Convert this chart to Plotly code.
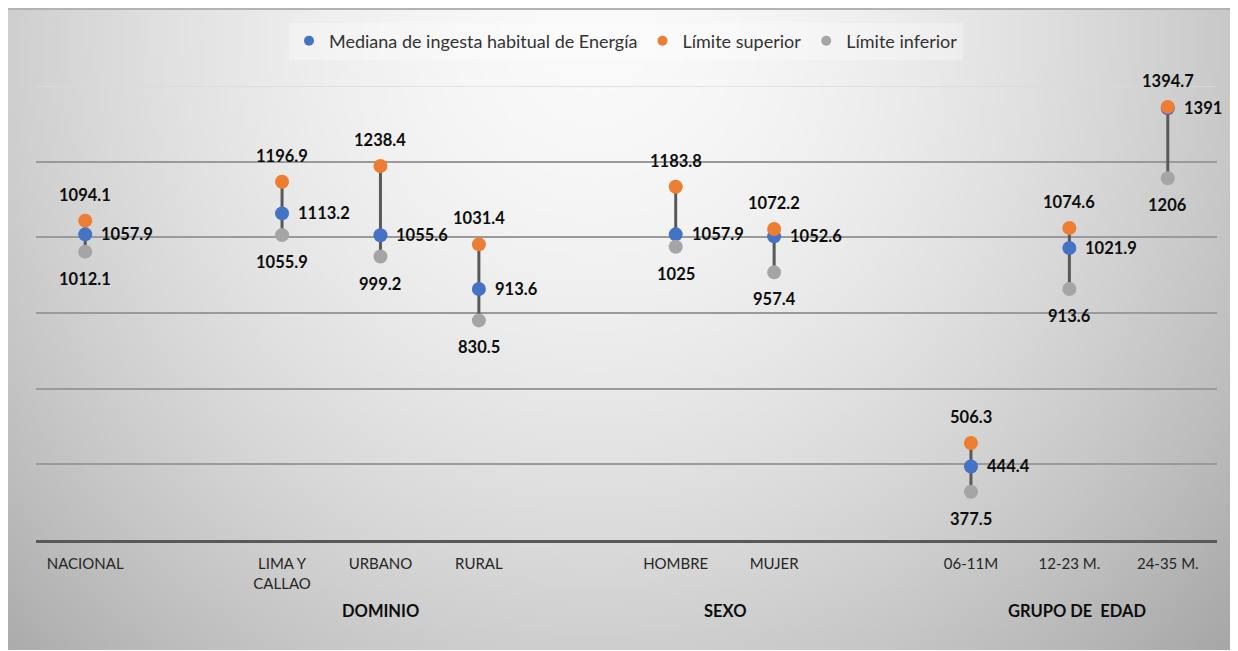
import base64, struct, zlib
import numpy as np
import plotly.graph_objects as go

# ---------------- data ----------------
all_slots = ["NACIONAL", " ", "LIMA Y<br>CALLAO", "URBANO", "RURAL", "  ",
             "HOMBRE", "MUJER", "   ", "06-11M", "12-23 M.", "24-35 M."]
categories = ["NACIONAL", "LIMA Y<br>CALLAO", "URBANO", "RURAL",
              "HOMBRE", "MUJER", "06-11M", "12-23 M.", "24-35 M."]
mediana = [1057.9, 1113.2, 1055.6, 913.6, 1057.9, 1052.6, 444.4, 1021.9, 1391]
superior = [1094.1, 1196.9, 1238.4, 1031.4, 1183.8, 1072.2, 506.3, 1074.6, 1394.7]
inferior = [1012.1, 1055.9, 999.2, 830.5, 1025, 957.4, 377.5, 913.6, 1206]
groups = [("DOMINIO", 3), ("SEXO", 6.5), ("GRUPO DE  EDAD", 10.08)]
series_names = ["Mediana de ingesta habitual de Energía", "Límite superior", "Límite inferior"]

BLUE, ORANGE, GREY = "#4472C4", "#ED7D31", "#A5A5A5"
FONT = "Lato"

OFF = 8  # browser default body margin
W, H = 1238 - OFF, 651 - OFF
# plot area in screen pixels: x 36..1217, y 86..540
L, R, T, B = 36 - OFF, 1238 - 1217, 86 - OFF, 651 - 540
PW, PH = W - L - R, H - T - B


def py(pix):  # screen pixel row -> paper y
    return (H - B - (pix - OFF)) / PH


def px(pix):
    return (pix - OFF - L) / PW


# ---------------- background gradient (image) ----------------
def make_png(arr):
    h, w, _ = arr.shape
    raw = b"".join(b"\x00" + arr[i].tobytes() for i in range(h))

    def chunk(t, d):
        return struct.pack(">I", len(d)) + t + d + struct.pack(">I", zlib.crc32(t + d) & 0xffffffff)
    return (b"\x89PNG\r\n\x1a\n" + chunk(b"IHDR", struct.pack(">IIBBBBB", w, h, 8, 2, 0, 0, 0))
            + chunk(b"IDAT", zlib.compress(raw, 9)) + chunk(b"IEND", b""))


gw, gh = 245, 128
xx, yy = np.meshgrid(np.linspace(0, 1, gw), np.linspace(0, 1, gh))
d = np.sqrt(((xx - 0.48) / 0.55) ** 2 + ((yy - 0.03) / 1.1) ** 2)
val = 250 - 54 * np.clip(d, 0, 1.3) ** 1.7
img = np.clip(np.stack([val, val, val], axis=-1), 0, 255).astype(np.uint8)
bg_src = "data:image/png;base64," + base64.b64encode(make_png(img)).decode()

fig = go.Figure()

# connecting lines lower -> upper
lx, ly = [], []
for c, lo, hi in zip(categories, inferior, superior):
    lx += [c, c, None]
    ly += [lo, hi, None]
fig.add_trace(go.Scatter(x=lx, y=ly, mode="lines", line=dict(color="#595959", width=3),
                         showlegend=False, hoverinfo="skip"))

fig.add_trace(go.Scatter(x=categories, y=mediana, mode="markers", showlegend=False,
                         marker=dict(color=BLUE, size=14)))
fig.add_trace(go.Scatter(x=categories, y=inferior, mode="markers", showlegend=False,
                         marker=dict(color=GREY, size=14)))
fig.add_trace(go.Scatter(x=categories, y=superior, mode="markers", showlegend=False,
                         marker=dict(color=ORANGE, size=14)))
# legend entries
for nm, col in zip(series_names, [BLUE, ORANGE, GREY]):
    fig.add_trace(go.Scatter(x=[None], y=[None], mode="markers", name=nm,
                             marker=dict(color=col, size=10)))

lab_font = dict(family=FONT, size=16.5, color="#0d0d0d")
ann = []
for c, v in zip(categories, mediana):
    ann.append(dict(x=c, y=v, text="<b>%g</b>" % v, showarrow=False, xanchor="left",
                    yanchor="middle", xshift=14, font=lab_font))
for c, v in zip(categories, superior):
    ann.append(dict(x=c, y=v, text="<b>%g</b>" % v, showarrow=False, xanchor="center",
                    yanchor="middle", yshift=26, font=lab_font))
for c, v in zip(categories, inferior):
    ann.append(dict(x=c, y=v, text="<b>%g</b>" % v, showarrow=False, xanchor="center",
                    yanchor="middle", yshift=-27, font=lab_font))
for g, pos in groups:
    ann.append(dict(x=pos, xref="x", y=py(611), yref="paper", text="<b>%s</b>" % g, showarrow=False,
                    xanchor="center", yanchor="middle", font=dict(family=FONT, size=16.5, color="#0d0d0d")))

fig.update_layout(
    width=W, height=H,
    margin=dict(l=L, r=R, t=T, b=B, autoexpand=False),
    paper_bgcolor="white", plot_bgcolor="rgba(0,0,0,0)",
    font=dict(family=FONT, color="#404040"),
    annotations=ann,
    legend=dict(orientation="h", x=px(626), xanchor="center", xref="paper",
                y=py(41), yref="paper", yanchor="middle",
                bgcolor="rgba(255,255,255,0.3)", font=dict(family=FONT, size=18, color="#333333"),
                itemsizing="trace"),
    images=[dict(source=bg_src, xref="paper", yref="paper", x=px(7), y=py(9),
                 sizex=1225 / PW, sizey=641 / PH, sizing="stretch", layer="below",
                 xanchor="left", yanchor="top")],
    shapes=[dict(type="line", xref="paper", yref="paper", x0=px(7), x1=px(1232),
                 y0=py(9), y1=py(9), line=dict(color="#b3b3b3", width=2)),
            dict(type="line", xref="paper", yref="y", x0=0, x1=1, y0=1450, y1=1450,
                 line=dict(color="#dadada", width=1.5), layer="below")],
    showlegend=True,
)
fig.update_xaxes(type="category", categoryorder="array", categoryarray=all_slots,
                 range=[-0.5, 11.5], showgrid=False, showline=True, linecolor="#595959", linewidth=3,
                 ticks="", tickfont=dict(family=FONT, size=15, color="#262626"), ticklabelstandoff=8,
                 fixedrange=True, automargin=False)
fig.update_yaxes(range=[250, 1450], tickvals=[450, 650, 850, 1050, 1250], showticklabels=False,
                 showgrid=True, gridcolor="#9a9a9a", gridwidth=1.5, zeroline=False, showline=False,
                 fixedrange=True, automargin=False)

fig.write_html("out.html")
